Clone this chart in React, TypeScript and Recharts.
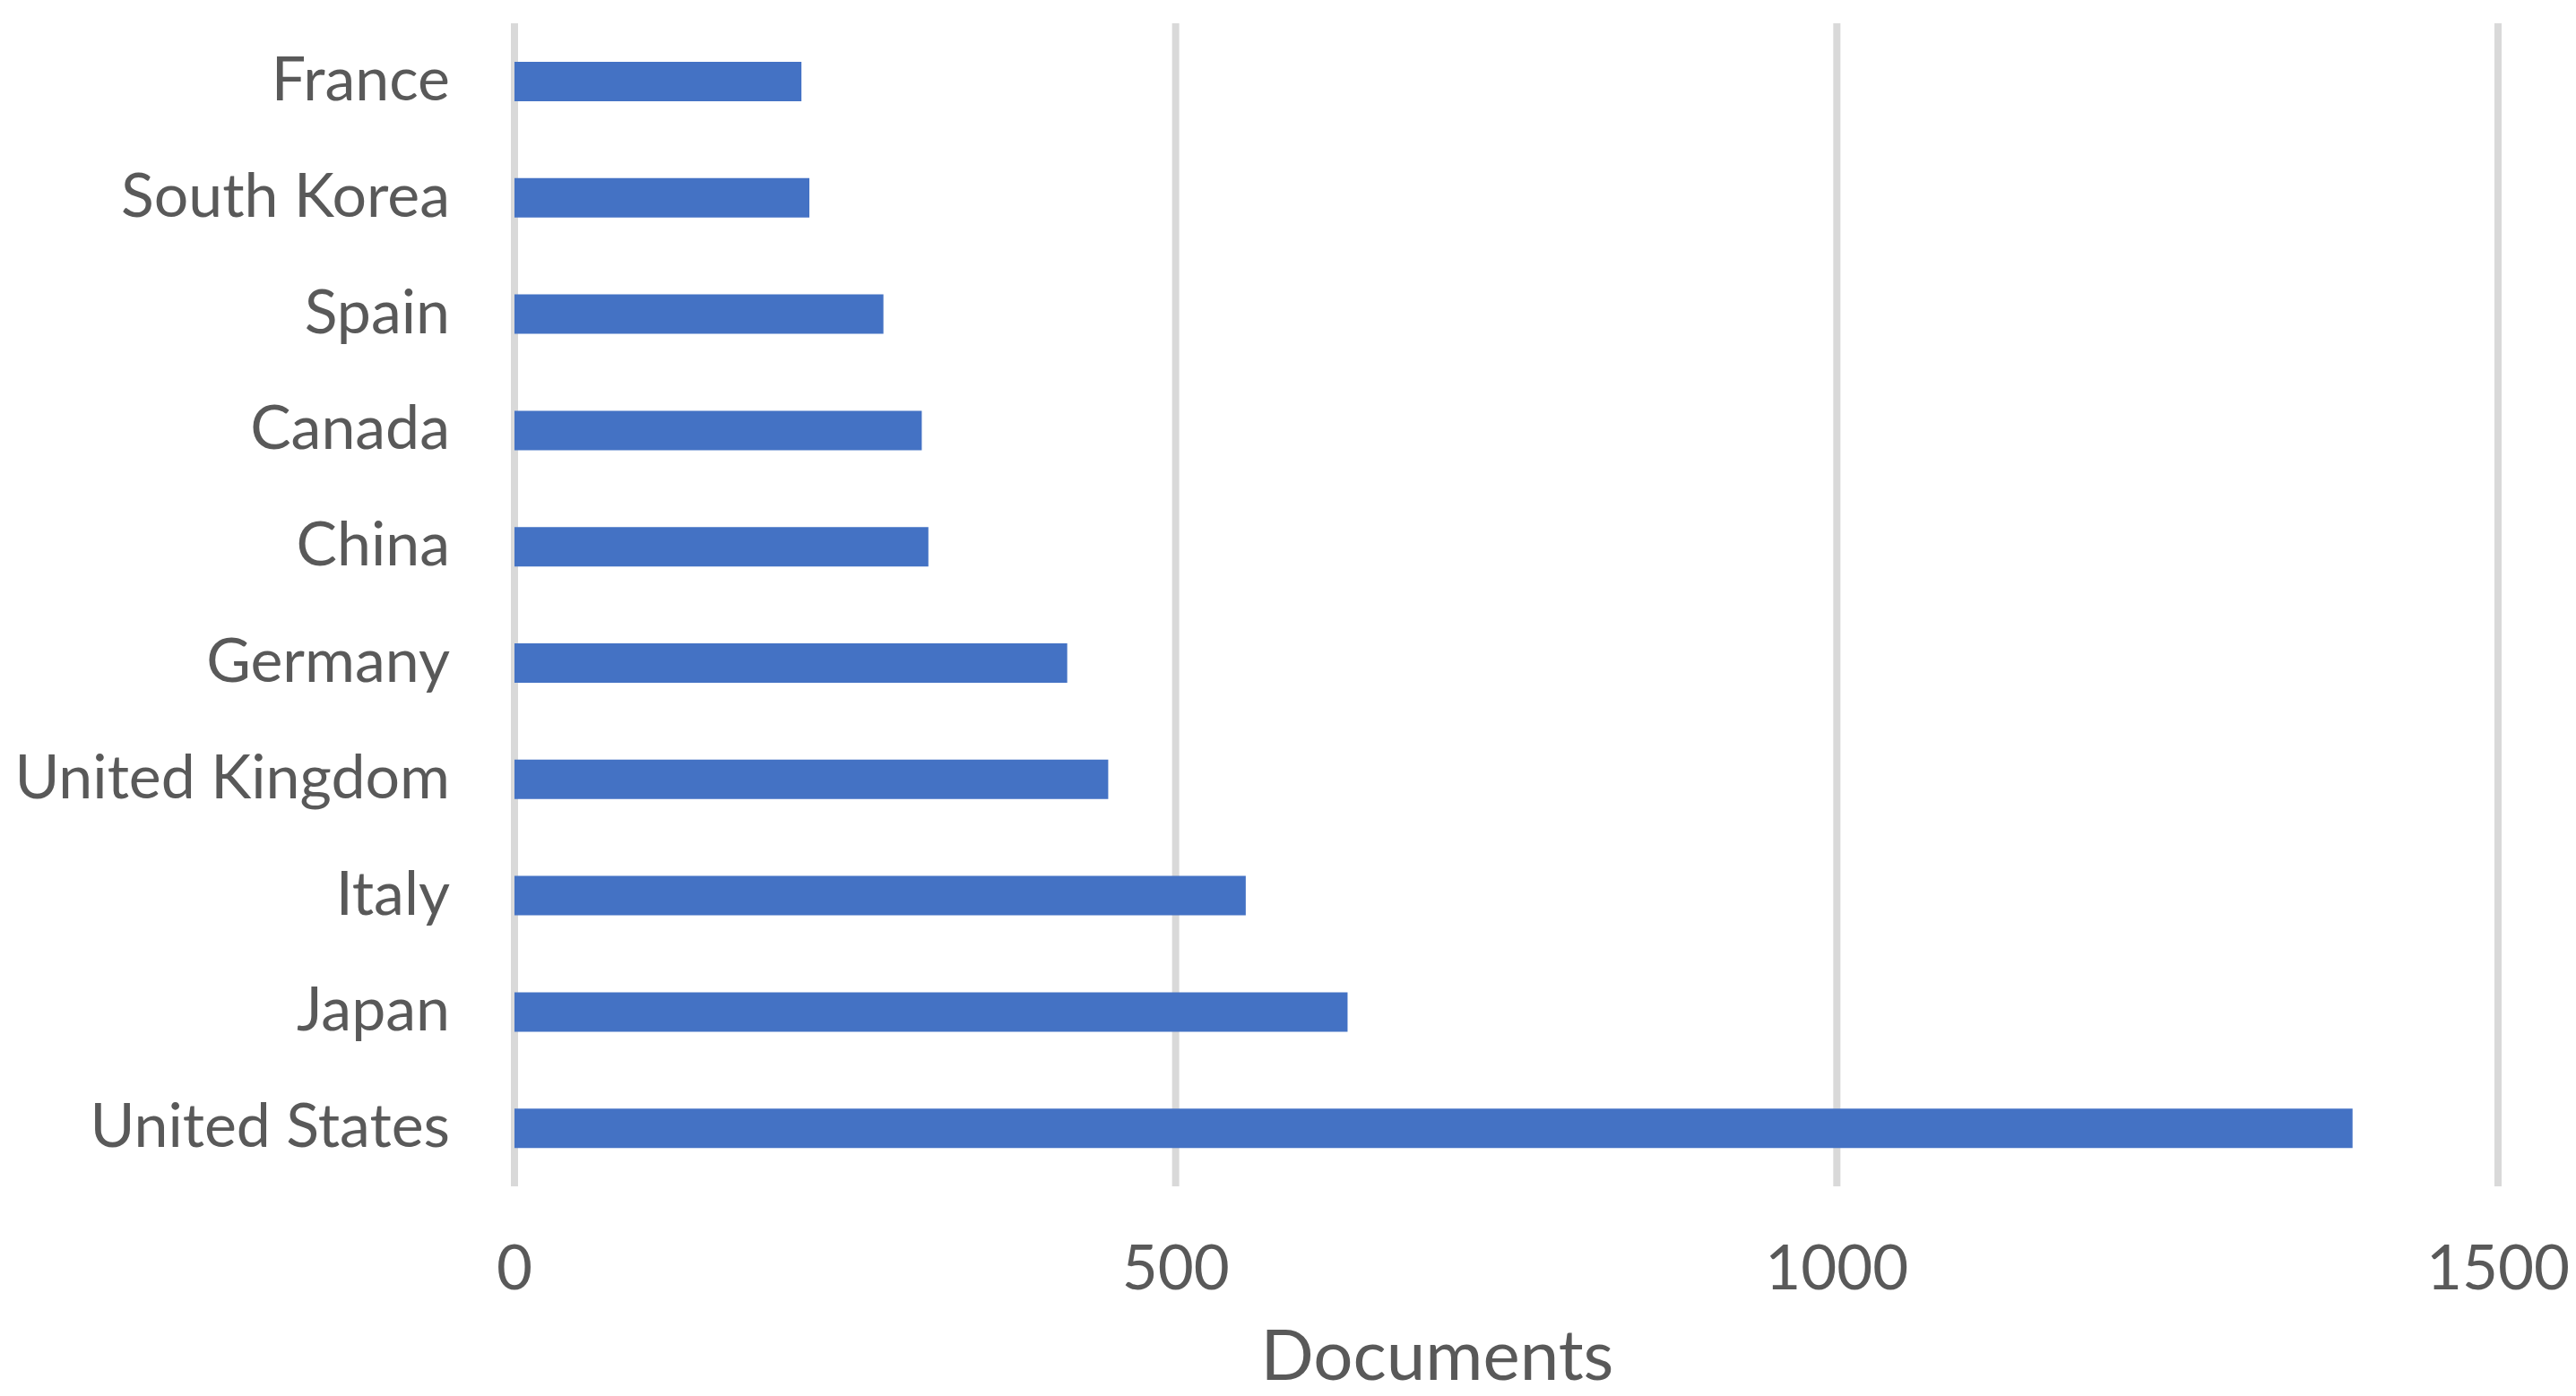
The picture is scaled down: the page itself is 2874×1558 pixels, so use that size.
import { BarChart, Bar, XAxis, YAxis, CartesianGrid } from "recharts";

const paises = [
  "France",
  "South Korea",
  "Spain",
  "Canada",
  "China",
  "Germany",
  "United Kingdom",
  "Italy",
  "Japan",
  "United States",
];
const documentos = [217, 223, 279, 308, 313, 418, 449, 553, 630, 1390];
const ticksX = [0, 500, 1000, 1500];

const datos = paises.map((nombre, i) => ({ nombre, documentos: documentos[i] }));

const GRIS = "#595959";
const FUENTE = "Lato, 'Open Sans', sans-serif";

export default function App() {
  return (
    <div style={{ position: "absolute", left: 0, top: 0, background: "#fff" }}>
      <BarChart
        width={2874}
        height={1558}
        data={datos}
        layout="vertical"
        margin={{ top: 26, right: 87, left: 0, bottom: 0 }}
        barSize={44}
      >
        <CartesianGrid horizontal={false} stroke="#d9d9d9" strokeWidth={8} />
        <XAxis
          type="number"
          domain={[0, 1500]}
          ticks={ticksX}
          axisLine={false}
          tickLine={false}
          tickSize={0}
          tickMargin={66}
          height={234}
          tick={{ fontSize: 69, fill: GRIS, fontFamily: FUENTE }}
          label={{
            value: "Documents",
            position: "insideBottom",
            offset: 18,
            dx: -77,
            fontSize: 78,
            fill: GRIS,
            fontFamily: FUENTE,
          }}
        />
        <YAxis
          type="category"
          dataKey="nombre"
          width={574}
          axisLine={false}
          tickLine={false}
          tickSize={0}
          tickMargin={72}
          interval={0}
          tick={{ fontSize: 68, fill: GRIS, fontFamily: FUENTE, dy: -3 }}
        />
        <Bar dataKey="documentos" fill="#4472C4" isAnimationActive={false} />
      </BarChart>
    </div>
  );
}
